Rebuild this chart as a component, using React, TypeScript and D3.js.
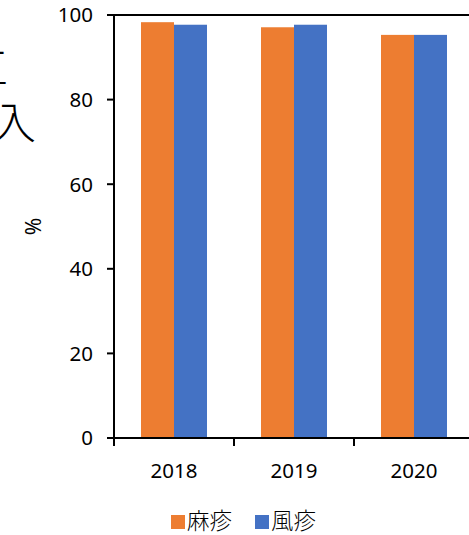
import React from "react";
import * as d3 from "d3";

const years = ["2018", "2019", "2020"];
const measles = [98.3, 97.1, 95.3];
const rubella = [97.7, 97.7, 95.3];
const seriesNames = ["麻疹", "風疹"];
const seriesColors = ["#ED7D31", "#4472C4"];
const yTicks = [0, 20, 40, 60, 80, 100];

const W = 469;
const H = 535;
const font = "'Noto Sans', 'Noto Sans CJK JP', sans-serif";
const cjk = "'Noto Sans CJK JP', sans-serif";

export default function App() {
  const plotLeft = 114;
  const plotRight = 474;
  const plotTop = 15;
  const plotBottom = 438;

  const x = d3.scaleBand<string>().domain(years).range([plotLeft, plotRight]).paddingInner(0).paddingOuter(0);
  const inner = d3.scaleBand<number>().domain([0, 1]).range([0, 66]);
  const y = d3.scaleLinear().domain([0, 100]).range([plotBottom, plotTop]);
  const series = [measles, rubella];

  return (
    <svg
      width={W}
      height={H}
      style={{ position: "absolute", left: 0, top: 0, background: "#fff" }}
      fontFamily={font}
    >
      {/* heading text running off the left edge */}
      <text x={8} y={84} fontSize={44} fontWeight={300} textAnchor="end" fontFamily={cjk} fill="#000">
        工
      </text>
      <text x={36} y={139} fontSize={44} fontWeight={300} textAnchor="end" fontFamily={cjk} fill="#000">
        入
      </text>

      {/* bars */}
      {years.map((yr, i) => {
        const cx = (x(yr) as number) + x.bandwidth() / 2;
        return series.map((vals, s) => (
          <rect
            key={yr + s}
            x={cx - 33 + (inner(s) as number)}
            y={y(vals[i])}
            width={inner.bandwidth()}
            height={plotBottom - y(vals[i])}
            fill={seriesColors[s]}
          />
        ));
      })}

      {/* top border line */}
      <line x1={107} x2={W} y1={plotTop} y2={plotTop} stroke="#000" strokeWidth={2} />

      {/* y axis */}
      <line x1={plotLeft} x2={plotLeft} y1={plotTop} y2={plotBottom + 8} stroke="#000" strokeWidth={2} />
      {yTicks.map((t) => (
        <g key={t}>
          <line x1={107} x2={plotLeft} y1={y(t)} y2={y(t)} stroke="#000" strokeWidth={2} />
          <text x={93} y={y(t)} dy="0.36em" textAnchor="end" fontSize={20.5} fill="#000">
            {t}
          </text>
        </g>
      ))}
      <text
        transform={`translate(41,${(plotTop + plotBottom) / 2}) rotate(-90)`}
        textAnchor="middle"
        fontSize={21}
        fill="#000"
      >
        %
      </text>

      {/* x axis */}
      <line x1={107} x2={W} y1={plotBottom} y2={plotBottom} stroke="#000" strokeWidth={2} />
      {years.map((yr) => (
        <g key={yr}>
          <line x1={x(yr) as number} x2={x(yr) as number} y1={plotBottom} y2={plotBottom + 8} stroke="#000" strokeWidth={2} />
          <text x={(x(yr) as number) + x.bandwidth() / 2} y={478} textAnchor="middle" fontSize={20.5} fill="#000">
            {yr}
          </text>
        </g>
      ))}

      {/* legend */}
      {seriesNames.map((n, i) => {
        const lx = 171 + i * 84;
        return (
          <g key={n}>
            <rect x={lx} y={515} width={14} height={14} fill={seriesColors[i]} />
            <text x={lx + 16} y={529} fontSize={22.5} fontWeight={300} fontFamily={cjk} fill="#000">
              {n}
            </text>
          </g>
        );
      })}
    </svg>
  );
}
